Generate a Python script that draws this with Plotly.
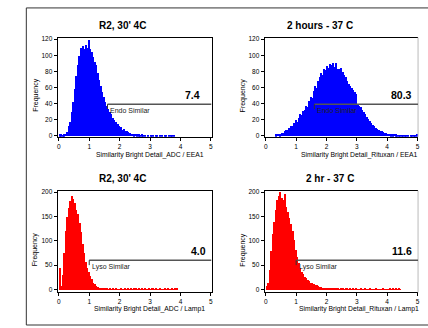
import plotly.graph_objects as go

W, H = 428, 328
FONT = "Liberation Sans, Arial, sans-serif"

bin_width = 0.05

# Panel 1: R2, 30' 4C  - ADC / EEA1 (blue)
p1_start = 0.0
p1_counts = [2, 2, 1, 2, 3, 5, 13, 18, 30, 42, 58, 75, 88, 100, 110, 112, 108, 113, 110, 120,
             108, 104, 98, 92, 88, 78, 70, 62, 55, 49, 42, 38, 34, 30, 27, 23, 20, 18, 15, 12,
             11, 8, 9, 6, 6, 5, 4, 3, 3, 2, 3, 2, 2, 1, 2, 1, 1, 0, 1, 0,
             1, 1, 0, 1, 1, 0, 1, 1, 0, 1, 1, 0, 1, 1, 1, 1]

# Panel 2: 2 hours - 37 C - Rituxan / EEA1 (blue)
p2_start = 0.30
p2_counts = [2, 3, 3, 2, 4, 4, 6, 8, 7, 10, 13, 12, 16, 20, 18, 23, 27, 26, 31, 33,
             38, 36, 44, 48, 47, 56, 62, 60, 68, 73, 79, 76, 84, 82, 87, 85, 90, 88, 91, 86,
             91, 84, 83, 85, 80, 76, 74, 68, 65, 62, 60, 57, 55, 52, 40, 38, 36, 33, 30, 27,
             24, 21, 19, 16, 14, 12, 10, 9, 8, 6, 6, 5, 4, 4, 3, 3, 2, 2, 3, 2,
             1, 1, 1, 1, 1, 1, 1, 1, 0, 1, 1, 1, 1, 2]

# Panel 3: R2, 30' 4C - ADC / Lamp1 (red)
p3_start = 0.0
p3_counts = [45, 8, 30, 75, 120, 150, 168, 182, 193, 186, 178, 165, 155, 138, 118, 95, 75, 58, 45, 36,
             28, 22, 15, 12, 8, 6, 4, 3, 2, 3, 2, 2, 1, 2, 1, 2, 1, 2, 1, 1,
             2, 1, 1, 2, 1, 2, 1, 3, 1, 3, 2, 1, 2, 1, 2, 1, 2, 1, 1, 2,
             1, 2, 1, 2, 1, 1, 2, 1, 1, 2, 1, 2, 1, 1, 2, 1, 3, 2]

# Panel 4: 2 hr - 37 C - Rituxan / Lamp1 (red)
p4_start = 0.0
p4_counts = [8, 15, 40, 80, 115, 140, 165, 185, 192, 200, 188, 185, 196, 170, 160, 148, 135, 120, 102, 82,
             68, 55, 45, 37, 32, 27, 24, 20, 18, 15, 13, 12, 10, 9, 7, 6, 5, 4, 4, 3,
             3, 2, 3, 2, 2, 3, 2, 2, 1, 2, 2, 1, 2, 2, 1, 2, 1, 2, 1, 2,
             1, 1, 2, 1, 1, 2, 1, 1, 2, 1, 1, 1, 2, 1, 1, 1, 1, 2, 1, 1,
             1, 2, 1, 4, 1, 2, 1, 3, 1]

titles = ["R2, 30' 4C", "2 hours - 37 C", "R2, 30' 4C", "2 hr - 37 C"]
x_titles = ["Similarity Bright Detail_ADC / EEA1", "Similarity Bright Detail_Rituxan / EEA1",
            "Similarity Bright Detail_ADC / Lamp1", "Similarity Bright Detail_Rituxan / Lamp1"]
y_title = "Frequency"
gate_names = ["Endo Similar", "Endo Similar", "Lyso Similar", "Lyso Similar"]
gate_start = [1.6, 1.6, 1.0, 1.0]
gate_level = [39, 39, 60, 60]
gate_values = ["7.4", "80.3", "4.0", "11.6"]
x_ticks = [0, 1, 2, 3, 4, 5]
y_ticks_top = [0, 20, 40, 60, 80, 100, 120]
y_ticks_bottom = [0, 50, 100, 150, 200]

starts = [p1_start, p2_start, p3_start, p4_start]
counts = [p1_counts, p2_counts, p3_counts, p4_counts]
colors = ["#0000FF", "#0000FF", "#FF0000", "#FF0000"]


def px(x):
    return x / W


def py(y):
    return 1 - y / H


# plot-area pixel boxes (left, right, top, bottom)
boxes = [(57, 212, 36, 136.5), (265.5, 420, 36, 136.5),
         (57, 212, 191, 294), (265.5, 420, 191, 294)]
yranges = [[-1.5, 122], [-1.5, 122], [-6, 203], [-6, 203]]
title_pos = [(122, 24), (321, 24), (122, 179), (331, 179)]
xtitle_pos = [(150, 155), (361, 155), (150, 311), (361, 311)]
ytitle_x = [35, 244, 35, 244]
value_x = [4.72, 4.9, 4.92, 4.9]

fig = go.Figure()
annotations = []
shapes = []

for i in range(4):
    n = i + 1
    xs = [starts[i] + bin_width * (k + 0.5) for k in range(len(counts[i]))]
    fig.add_trace(go.Bar(x=xs, y=counts[i], width=bin_width, marker=dict(color=colors[i], line=dict(width=0)),
                         xaxis=f"x{n}", yaxis=f"y{n}", showlegend=False, hoverinfo="x+y"))
    l, r, t, b = boxes[i]
    right_dark = i in (0, 2)
    fig.update_layout(**{
        f"xaxis{n}": dict(domain=[px(l), px(r)], range=[-0.04, 5.02], anchor=f"y{n}",
                          tickvals=x_ticks, ticks="outside", ticklen=3, tickcolor="black",
                          showline=True, linecolor="black", linewidth=1, mirror=True,
                          showgrid=False, zeroline=False,
                          tickfont=dict(family=FONT, size=6.5, color="black")),
        f"yaxis{n}": dict(domain=[py(b), py(t)], range=yranges[i], anchor=f"x{n}",
                          tickvals=y_ticks_top if i < 2 else y_ticks_bottom,
                          ticks="outside", ticklen=3, tickcolor="black",
                          showline=True, linecolor="black", linewidth=1,
                          mirror=True if right_dark else False,
                          showgrid=False, zeroline=False,
                          tickfont=dict(family=FONT, size=6.5, color="black")),
    })
    if not right_dark:
        shapes.append(dict(type="line", xref="paper", yref="paper", x0=px(r), x1=px(r), y0=py(b), y1=py(t),
                           line=dict(color="#bbbbbb", width=1)))
    # gate line
    tick_h = 6 if i < 2 else 10
    shapes.append(dict(type="line", xref=f"x{n}", yref=f"y{n}", x0=gate_start[i], x1=5.02,
                       y0=gate_level[i], y1=gate_level[i], line=dict(color="#555555", width=1.5)))
    shapes.append(dict(type="line", xref=f"x{n}", yref=f"y{n}", x0=gate_start[i], x1=gate_start[i],
                       y0=gate_level[i], y1=gate_level[i] - tick_h, line=dict(color="#333333", width=1)))
    annotations.append(dict(xref=f"x{n}", yref=f"y{n}", x=gate_start[i] + 0.03, y=gate_level[i],
                            text=gate_names[i], showarrow=False, xanchor="left", yanchor="top", yshift=-0.5,
                            font=dict(family=FONT, size=7, color="#222222")))
    annotations.append(dict(xref=f"x{n}", yref=f"y{n}", x=value_x[i], y=gate_level[i],
                            text=f"<b>{gate_values[i]}</b>", showarrow=False, xanchor="right", yanchor="bottom",
                            yshift=1, font=dict(family=FONT, size=10.5, color="black")))
    # titles
    tx, ty = title_pos[i]
    annotations.append(dict(xref="paper", yref="paper", x=px(tx), y=py(ty), text=f"<b>{titles[i]}</b>",
                            showarrow=False, xanchor="center", yanchor="middle",
                            font=dict(family=FONT, size=10, color="black")))
    xx, xy = xtitle_pos[i]
    annotations.append(dict(xref="paper", yref="paper", x=px(xx), y=py(xy), text=x_titles[i],
                            showarrow=False, xanchor="center", yanchor="middle",
                            font=dict(family=FONT, size=6.8, color="black")))
    annotations.append(dict(xref="paper", yref="paper", x=px(ytitle_x[i]), y=py((t + b) / 2 + 8), text=y_title,
                            showarrow=False, xanchor="center", yanchor="middle", textangle=-90,
                            font=dict(family=FONT, size=7, color="black")))

# outer frame
shapes.append(dict(type="rect", xref="paper", yref="paper", x0=px(25.5), x1=1.1, y0=py(327), y1=py(6),
                   line=dict(color="#333333", width=1), fillcolor="rgba(0,0,0,0)", layer="below"))

fig.update_layout(width=W, height=H, autosize=False, margin=dict(l=0, r=0, t=0, b=0),
                  paper_bgcolor="white", plot_bgcolor="white", bargap=0,
                  annotations=annotations, shapes=shapes,
                  font=dict(family=FONT, color="black"))

fig.write_html("out.html", config={"displayModeBar": False},
               post_script="document.body.style.margin='0';document.body.style.overflow='hidden';")
